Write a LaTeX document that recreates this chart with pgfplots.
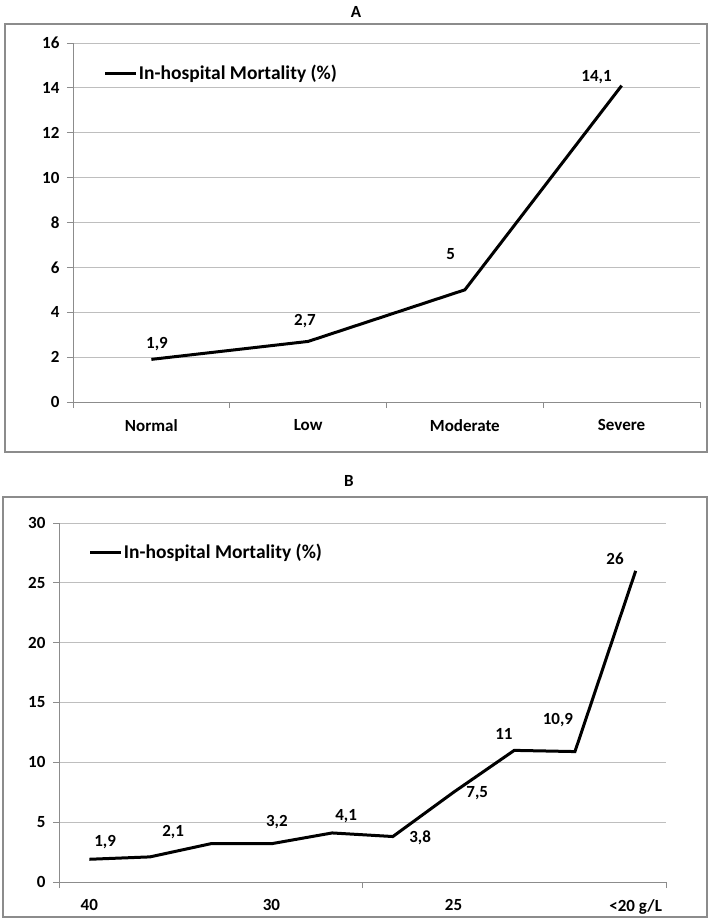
\documentclass[border=0pt]{standalone}
\usepackage{pgfplots}
\pgfplotsset{compat=1.18}
\usepackage{fontspec}
\setmainfont{Carlito}
\definecolor{framegray}{HTML}{8C8C8C}
\definecolor{gridgray}{HTML}{BEBEBE}
\pgfplotsset{
  common/.style={
    scale only axis,
    font=\fontsize{17}{20}\selectfont\bfseries,
    /pgf/number format/assume math mode=true,
    axis x line*=bottom,
    axis y line*=left,
    axis line style={draw=framegray, line width=1pt, -},
    ymajorgrids,
    grid style={draw=gridgray, line width=1pt},
    tick align=outside,
    major tick length=6pt,
    minor tick length=6pt,
    tick style={draw=framegray, line width=1pt},
    major x tick style={draw=none},
    yticklabel style={xshift=-4pt},
    xticklabel style={yshift=-8pt},
    legend style={draw=none, fill=none, inner sep=0pt, font=\fontsize{19.5}{22}\selectfont\bfseries, anchor=west,
      nodes={inner xsep=1pt}},
    legend image code/.code={\draw[line width=3pt] (0pt,0pt) -- (31pt,0pt);},
    legend cell align=left,
  },
}
\begin{document}
\begin{tikzpicture}
\path (0pt,0pt) rectangle (709pt,-919pt);
\draw[framegray, line width=2pt] (5pt,-24pt) rectangle (707pt,-452pt);
\draw[framegray, line width=2pt] (3pt,-497pt) rectangle (707pt,-917pt);
\node[font=\fontsize{17}{20}\selectfont\bfseries] at (356pt,-12pt) {A};
\node[font=\fontsize{17}{20}\selectfont\bfseries] at (349pt,-481pt) {B};

\begin{axis}[common,
  at={(73pt,-402pt)}, anchor=south west,
  width=627pt, height=359pt,
  xmin=-0.5, xmax=3.5, ymin=0, ymax=16,
  ytick={0,2,4,6,8,10,12,14,16},
  xtick={0,1,2,3},
  xticklabels={Normal,Low,Moderate,Severe},
  minor xtick={-0.5,0.5,1.5,2.5,3.5},
  legend style={at={(0.049,0.916)}},
]
\addplot[black, line width=3pt, mark=none] coordinates {(0,1.9) (1,2.7) (2,5) (3,14.1)};
\addlegendentry{In-hospital Mortality (\%)}
\node at (axis cs:0.036,2.6) {1,9};
\node at (axis cs:0.98,3.6) {2,7};
\node at (axis cs:1.91,6.6) {5};
\node at (axis cs:2.84,14.5) {14,1};
\end{axis}

\begin{axis}[common,
  at={(59pt,-882pt)}, anchor=south west,
  width=607pt, height=359pt,
  xmin=0.5, xmax=10.5, ymin=0, ymax=30,
  ytick={0,5,10,15,20,25,30},
  xtick={1,4,7,10},
  xticklabels={40,30,25,{<20 g/L}},
  minor xtick={0.5,5.5,10.5},
  legend style={at={(0.049,0.919)}},
]
\addplot[black, line width=3pt, mark=none] coordinates {(1,1.9) (2,2.1) (3,3.2) (4,3.2) (5,4.1) (6,3.8) (7,7.5) (8,11) (9,10.9) (10,26)};
\addlegendentry{In-hospital Mortality (\%)}
\node at (axis cs:1.26,3.3) {1,9};
\node at (axis cs:2.38,4.2) {2,1};
\node at (axis cs:4.09,5.0) {3,2};
\node at (axis cs:5.23,5.5) {4,1};
\node at (axis cs:6.45,3.7) {3,8};
\node at (axis cs:7.39,7.4) {7,5};
\node at (axis cs:7.83,12.4) {11};
\node at (axis cs:8.72,13.5) {10,9};
\node at (axis cs:9.66,27.0) {26};
\end{axis}
\end{tikzpicture}
\end{document}
